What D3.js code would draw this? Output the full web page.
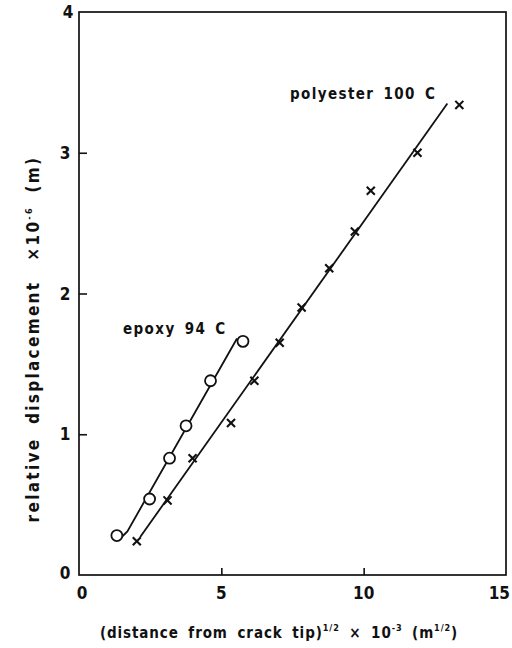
<!DOCTYPE html>
<head>
<meta charset="utf-8">
<title>relative displacement vs distance from crack tip</title>
<script type="text/javascript" src="https://d3js.org/d3.v7.min.js"></script>
<style>
  body { margin: 0; background: #fff; }
  svg text { font-family: "DejaVu Sans Condensed", "DejaVu Sans", sans-serif; fill: #111; font-weight: bold; }
  .tick-label { font-size: 17px; }
  .series-label { font-size: 15px; letter-spacing: 1.4px; word-spacing: 3px; }
  .axis-title { font-size: 15px; letter-spacing: 0.9px; word-spacing: 4px; }
  .y-title { font-size: 17px; letter-spacing: 2.3px; word-spacing: 6px; }
</style>
</head>
<body>
<div id="container"></div>

<script>

//-----------------------------DATA-----------------------------//
// x = (distance from crack tip)^1/2 x 10^-3, y = relative displacement x 10^-6
const xTicks = [0, 5, 10, 15];
const yTicks = [0, 1, 2, 3, 4];

const epoxyX = [1.33, 2.48, 3.18, 3.76, 4.62, 5.76];
const epoxyY = [0.28, 0.54, 0.83, 1.06, 1.38, 1.66];

const polyX = [2.03, 3.11, 3.99, 5.34, 6.16, 7.05, 7.82, 8.79, 9.69, 10.25, 11.89, 13.36];
const polyY = [0.24, 0.53, 0.83, 1.08, 1.38, 1.65, 1.90, 2.18, 2.44, 2.73, 3.00, 3.34];

// hand-drawn fit lines
const epoxyFitX = [1.50, 1.70, 5.55];
const epoxyFitY = [0.27, 0.31, 1.68];
const polyFitX = [2.15, 12.94];
const polyFitY = [0.27, 3.35];

//-----------------------------SVG------------------------------//
const W = 512;
const H = 648;
const mLeft = 79, mRight = 506, mTop = 12, mBottom = 575;

const svg = d3.select("div#container").append("svg")
    .attr("width", W)
    .attr("height", H);

//----------------------------SCALES----------------------------//
const x = d3.scaleLinear().domain([0, 15]).range([mLeft, mRight]);
const y = d3.scaleLinear().domain([0, 4]).range([mBottom, mTop]);

//-----------------------------AXES-----------------------------//
// frame
svg.append("rect")
    .attr("x", x(0)).attr("y", y(4))
    .attr("width", x(15) - x(0)).attr("height", y(0) - y(4))
    .attr("fill", "none").attr("stroke", "#111").attr("stroke-width", 1.7);

// inward ticks
const xaxis = d3.axisTop(x).tickValues([5, 10]).tickSize(7).tickFormat("");
svg.append("g").attr("transform", "translate(0," + y(0) + ")").call(xaxis)
    .call(g => g.select(".domain").remove())
    .selectAll("line").attr("stroke", "#111").attr("stroke-width", 1.6);

const yaxis = d3.axisRight(y).tickValues([1, 2, 3]).tickSize(8).tickFormat("");
svg.append("g").attr("transform", "translate(" + x(0) + ",0)").call(yaxis)
    .call(g => g.select(".domain").remove())
    .selectAll("line").attr("stroke", "#111").attr("stroke-width", 1.6);

// tick labels
svg.selectAll(".xlab").data(xTicks).enter().append("text")
    .attr("class", "tick-label")
    .attr("x", d => d === 15 ? 510 : x(d) + (d === 0 ? 3 : 0))
    .attr("y", 599)
    .attr("text-anchor", d => d === 15 ? "end" : "middle")
    .text(d => d);

svg.selectAll(".ylab").data(yTicks).enter().append("text")
    .attr("class", "tick-label")
    .attr("x", d => d === 4 ? 68 : 65)
    .attr("y", d => y(d) + (d === 0 ? 4 : 6))
    .attr("text-anchor", "middle")
    .text(d => d);

// axis titles
const xt = svg.append("text").attr("class", "axis-title")
    .attr("x", 279).attr("y", 638).attr("text-anchor", "middle");
xt.append("tspan").text("(distance from crack tip)");
xt.append("tspan").attr("font-size", 9).attr("dy", -7).text("1/2");
xt.append("tspan").attr("dy", 7).text(" \u00d7 10");
xt.append("tspan").attr("font-size", 9).attr("dy", -7).text("-3");
xt.append("tspan").attr("dy", 7).text(" (m");
xt.append("tspan").attr("font-size", 9).attr("dy", -7).text("1/2");
xt.append("tspan").attr("dy", 7).text(")");

const yt = svg.append("text").attr("class", "y-title")
    .attr("transform", "translate(39,339) rotate(-90)")
    .attr("text-anchor", "middle");
yt.append("tspan").text("relative displacement");
yt.append("tspan").attr("dx", 20).text("\u00d710");
yt.append("tspan").attr("font-size", 9).attr("dy", -7).text("-6");
yt.append("tspan").attr("dy", 7).text(" (m)");

//----------------------------LINES-----------------------------//
const line = d3.line().x(d => x(d[0])).y(d => y(d[1]));

svg.append("path")
    .attr("d", line(d3.zip(epoxyFitX, epoxyFitY)))
    .attr("fill", "none").attr("stroke", "#111").attr("stroke-width", 1.8);

svg.append("path")
    .attr("d", line(d3.zip(polyFitX, polyFitY)))
    .attr("fill", "none").attr("stroke", "#111").attr("stroke-width", 1.8);

//---------------------------MARKERS----------------------------//
svg.selectAll(".circ").data(d3.zip(epoxyX, epoxyY)).enter().append("circle")
    .attr("cx", d => x(d[0])).attr("cy", d => y(d[1])).attr("r", 5.5)
    .attr("fill", "#fff").attr("stroke", "#111").attr("stroke-width", 1.8);

const cross = d3.symbol().type(d3.symbolX).size(44);
svg.selectAll(".cross").data(d3.zip(polyX, polyY)).enter().append("path")
    .attr("transform", d => "translate(" + x(d[0]) + "," + y(d[1]) + ")")
    .attr("d", cross)
    .attr("fill", "none").attr("stroke", "#111").attr("stroke-width", 2.1);

//----------------------------LABELS----------------------------//
svg.append("text").attr("class", "series-label")
    .attr("x", 123).attr("y", 334).text("epoxy  94 C");

svg.append("text").attr("class", "series-label")
    .attr("x", 290).attr("y", 99).text("polyester   100 C");

</script>
</body>
